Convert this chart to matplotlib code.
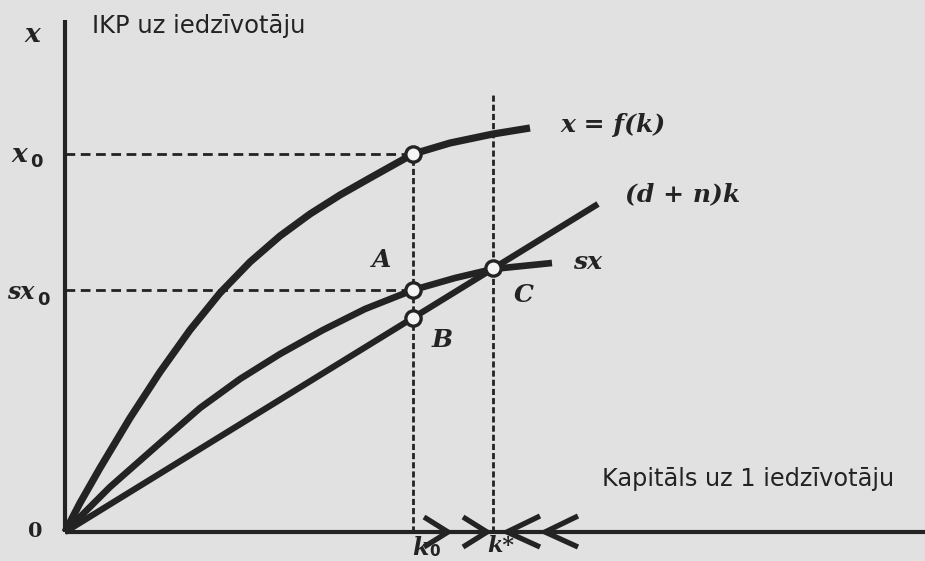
import matplotlib
matplotlib.use("Agg")
import matplotlib.pyplot as plt

# ---- data (units: capital per worker k, output per worker x) ----
f_k = [0, 0.15, 0.35, 0.65, 0.95, 1.25, 1.55, 1.85, 2.15, 2.45, 2.75, 3.05, 3.48, 3.85, 4.28, 4.65]
f_x = [0, 0.29, 0.64, 1.14, 1.60, 2.02, 2.39, 2.70, 2.96, 3.18, 3.37, 3.54, 3.78, 3.89, 3.98, 4.04]

sx_k = [0, 0.45, 0.95, 1.35, 1.75, 2.15, 2.58, 3.00, 3.48, 3.90, 4.28, 4.87]
sx_x = [0, 0.45, 0.89, 1.24, 1.53, 1.78, 2.02, 2.23, 2.42, 2.54, 2.63, 2.69]

dn_k = [0, 5.33]
dn_x = [0, 3.28]

k0 = 3.48
k_star = 4.28
x0 = 3.78
sx0 = 2.42
B_val = 2.14
C_val = 2.64

arrows_right = [3.83, 4.22]
arrows_left = [4.42, 4.80]

bg = "#e1e1e1"
ink = "#232323"

fig = plt.figure(figsize=(9.25, 5.61), dpi=100, facecolor=bg)
ax = fig.add_axes([0, 0, 1, 1])
ax.set_facecolor(bg)
ax.set_xlim(-0.65, 8.60)
ax.set_ylim(-0.29, 5.32)
ax.axis("off")

# axes
ax.plot([0, 0], [0, 5.12], color=ink, lw=3, solid_capstyle="butt")
ax.plot([0, 8.60], [0, 0], color=ink, lw=3, solid_capstyle="butt")

# dashed guides
ax.plot([0, k0], [x0, x0], color=ink, lw=2, ls=(0, (3.5, 2)))
ax.plot([0, k0], [sx0, sx0], color=ink, lw=2, ls=(0, (3.5, 2)))
ax.plot([k0, k0], [0, x0], color=ink, lw=2, ls=(0, (2.2, 1.1)))
ax.plot([k_star, k_star], [0, 4.37], color=ink, lw=2, ls=(0, (2.2, 1.1)))

# curves
ax.plot(f_k, f_x, color=ink, lw=5.2, solid_capstyle="butt", solid_joinstyle="round")
ax.plot(sx_k, sx_x, color=ink, lw=4.8, solid_capstyle="butt", solid_joinstyle="round")
ax.plot(dn_k, dn_x, color=ink, lw=4.5, solid_capstyle="butt")

# open circles
pts_k = [k0, k0, k0, k_star]
pts_x = [x0, sx0, B_val, C_val]
ax.plot(pts_k, pts_x, ls="none", marker="o", ms=11, mfc="#f4f4f4", mec=ink, mew=2.4, zorder=5)

# chevrons on the k axis
for t in arrows_right:
    ax.plot([t - 0.24, t, t - 0.24], [0.15, 0, -0.15], color=ink, lw=3.8, solid_joinstyle="miter",
            solid_capstyle="butt")
for t in arrows_left:
    ax.plot([t + 0.33, t, t + 0.33], [0.16, 0, -0.15], color=ink, lw=3.8, solid_joinstyle="miter",
            solid_capstyle="butt")

serif = "DejaVu Serif"
sans = "DejaVu Sans"

def it(x, y, s, size=18, **kw):
    ax.text(x, y, s, fontfamily=serif, fontweight="bold", fontstyle="italic",
            fontsize=size, color=ink, **kw)

def sub0(x, y, size=13):
    ax.text(x, y, "0", fontfamily=sans, fontweight="bold", fontsize=size, color=ink,
            ha="center", va="center")

# axis titles
ax.text(0.27, 5.06, "IKP uz iedzīvotāju", fontfamily=sans, fontsize=17.5, color=ink,
        ha="left", va="center")
ax.text(5.37, 0.53, "Kapitāls uz 1 iedzīvotāju", fontfamily=sans, fontsize=17.3, color=ink,
        ha="left", va="center")

# y labels
it(-0.33, 4.97, "x", size=19, ha="center", va="center")
it(-0.46, 3.77, "x", size=19, ha="center", va="center")
sub0(-0.29, 3.70)
it(-0.44, 2.40, "sx", size=17, ha="center", va="center")
sub0(-0.22, 2.32)
ax.text(-0.30, 0.01, "0", fontfamily=serif, fontweight="bold", fontsize=15, color=ink,
        ha="center", va="center")

# curve labels
it(4.95, 4.07, "x = f(k)", size=18, ha="left", va="center")
it(5.60, 3.38, "(d + n)k", size=18, ha="left", va="center")
it(5.08, 2.70, "sx", size=18, ha="left", va="center")

# point labels
it(3.17, 2.72, "A", size=18, ha="center", va="center")
it(3.77, 1.92, "B", size=18, ha="center", va="center")
it(4.59, 2.37, "C", size=18, ha="center", va="center")

# k labels
it(3.55, -0.16, "k", size=17, ha="center", va="center")
sub0(3.70, -0.19, size=11)
it(4.36, -0.14, "k*", size=16, ha="center", va="center")

fig.savefig("out.png", dpi=100, facecolor=bg)
